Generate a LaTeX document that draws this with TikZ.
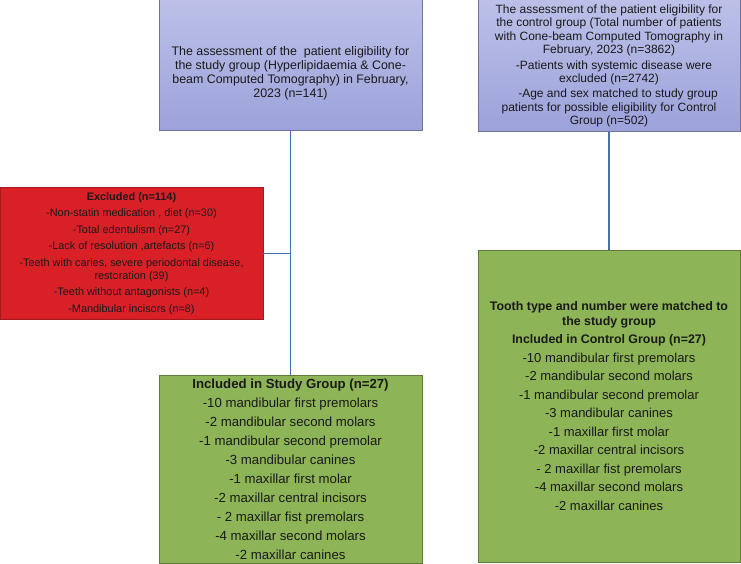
\documentclass[tikz,border=0pt]{standalone}
\usepackage{fontspec}
\setmainfont{Liberation Sans}
\definecolor{lavtop}{HTML}{BCC0E8}
\definecolor{lavbot}{HTML}{9CA2DA}
\definecolor{lavedge}{HTML}{6F7399}
\definecolor{redfill}{HTML}{DA2027}
\definecolor{rededge}{HTML}{A51A1E}
\definecolor{grnfill}{HTML}{8DB456}
\definecolor{grnedge}{HTML}{5F7A3A}
\definecolor{conn}{HTML}{4A6DB2}
\definecolor{txt}{HTML}{1A1A1A}
\tikzset{
  box/.style={draw, line width=1pt, inner sep=0pt, outer sep=0pt, align=center, text=txt},
  lavbox/.style={box, draw=lavedge, top color=lavtop, bottom color=lavbot},
  redbox/.style={box, draw=rededge, fill=redfill},
  grnbox/.style={box, draw=grnedge, fill=grnfill},
  link/.style={draw=conn, line width=1.2pt}
}
\begin{document}
\begin{tikzpicture}[x=1pt,y=1pt]
\useasboundingbox (0,0) rectangle (741,-564);

\node[lavbox, minimum width=263pt, minimum height=131pt, font=\fontsize{12.4}{14}\selectfont]
  (tl) at (290.5,-65.5)
  {\strut\\
   The assessment of the \ patient eligibility for\\
   the study group (Hyperlipidaemia \& Cone-\\
   beam Computed Tomography) in February,\\
   2023 (n=141)};

\node[lavbox, minimum width=262pt, minimum height=132pt, font=\fontsize{12}{13.4}\selectfont]
  (tr) at (609,-66)
  {The assessment of the patient eligibility for\\
   the control group (Total number of patients\\
   with Cone-beam Computed Tomography in\\
   February, 2023 (n=3862)\\[2pt]
   \hspace*{10pt}-Patients with systemic disease were\\
   excluded (n=2742)\\[2pt]
   \hspace*{18pt}-Age and sex matched to study group\\
   patients for possible eligibility for Control\\
   Group (n=502)};

\node[redbox, minimum width=263pt, minimum height=131pt, font=\fontsize{10.9}{13.3}\selectfont]
  (ex) at (131.5,-253.5)
  {{\bfseries Excluded (n=114)}\\[3.2pt]
   -Non-statin medication , diet (n=30)\\[3.2pt]
   -Total edentulism (n=27)\\[3.2pt]
   -Lack of resolution ,artefacts (n=6)\\[3.2pt]
   -Teeth with caries, severe periodontal disease,\\
   restoration (39)\\[3.2pt]
   -Teeth without antagonists (n=4)\\[3.2pt]
   -Mandibular incisors (n=8)};

\node[grnbox, minimum width=263pt, minimum height=188pt, font=\fontsize{13.2}{19}\selectfont]
  (st) at (290.5,-469)
  {{\bfseries Included in Study Group (n=27)}\\
   -10 mandibular first premolars\\
   -2 mandibular second molars\\
   -1 mandibular second premolar\\
   -3 mandibular canines\\
   -1 maxillar first molar\\
   -2 maxillar central incisors\\
   - 2 maxillar fist premolars\\
   -4 maxillar second molars\\
   -2 maxillar canines};

\node[grnbox, minimum width=262pt, minimum height=312pt, font=\fontsize{13}{18.5}\selectfont]
  (ct) at (609,-406)
  {{\bfseries\fontsize{12.4}{15}\selectfont Tooth type and number were matched to}\\[-3.5pt]
   {\bfseries\fontsize{12.4}{15}\selectfont the study group}\\
   {\bfseries\fontsize{12.4}{15}\selectfont Included in Control Group (n=27)}\\
   -10 mandibular first premolars\\
   -2 mandibular second molars\\
   -1 mandibular second premolar\\
   -3 mandibular canines\\
   -1 maxillar first molar\\
   -2 maxillar central incisors\\
   - 2 maxillar fist premolars\\
   -4 maxillar second molars\\
   -2 maxillar canines};

\draw[link] (tl.south) -- (st.north);
\draw[link] (ex.east) -- (ex.east -| tl.south);
\draw[link] (tr.south) -- (ct.north);
\end{tikzpicture}
\end{document}
